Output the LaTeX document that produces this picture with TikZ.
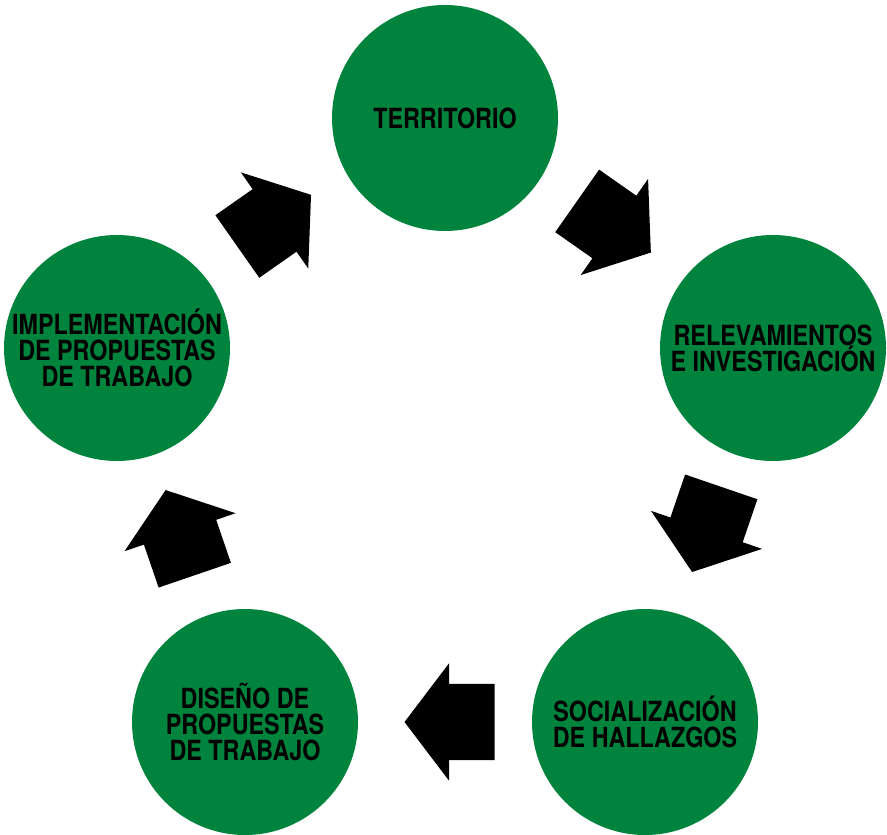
\documentclass[tikz,border=0pt]{standalone}
\usepackage{fontspec}
\newfontfamily\etapafont{TeX Gyre Heros}[FakeStretch=0.84]
\usetikzlibrary{shapes,arrows,positioning,calc}
\definecolor{verdeetapa}{RGB}{0,132,61}
\tikzset{
	etapa/.style = {circle, fill=verdeetapa, minimum size=2.26cm, inner sep=0pt},
	etapatexto/.style = {align=center, text=black, inner sep=0pt, font=\etapafont\bfseries\fontsize{7.9}{7.4}\selectfont},
	flecha/.style = {single arrow, fill=black, draw=none, sloped, allow upside down, inner xsep=0pt, inner ysep=0.375cm, minimum height=0.9cm, single arrow head extend=0.205cm, single arrow tip angle=105.6, xshift=-0.19cm}
}
\begin{document}
\begin{tikzpicture}[]
		\useasboundingbox (0,0) rectangle (8.87,-8.35);
		\node[etapa, label={[etapatexto]center:TERRITORIO}] (terr) at (4.45,-1.18) {};
		\node[etapa, label={[etapatexto]center:RELEVAMIENTOS\\E INVESTIGACIÓN}] (relev) at (7.73,-3.48) {};
		\node[etapa, label={[etapatexto]center:SOCIALIZACIÓN\\DE HALLAZGOS}] (socia) at (6.45,-7.22) {};
		\node[etapa, label={[etapatexto]center:DISEÑO DE\\PROPUESTAS\\DE TRABAJO}] (dise) at (2.45,-7.22) {};
		\node[etapa, label={[etapatexto]center:IMPLEMENTACIÓN\\DE PROPUESTAS\\DE TRABAJO}] (impl) at (1.17,-3.48) {};
		\path (terr) -- node[flecha, xshift=0.05cm, yshift=0.08cm] (f1) {} (relev);
		\path (relev) -- node[flecha, yshift=-0.04cm] (f2) {} (socia);
		\path (socia) -- node[flecha] (f3) {} (dise);
		\path (dise) -- node[flecha, xshift=0.07cm] (f4) {} (impl);
		\path (impl) -- node[flecha, xshift=0.06cm, yshift=0.14cm] (f5) {} (terr);
	\end{tikzpicture}
\end{document}
